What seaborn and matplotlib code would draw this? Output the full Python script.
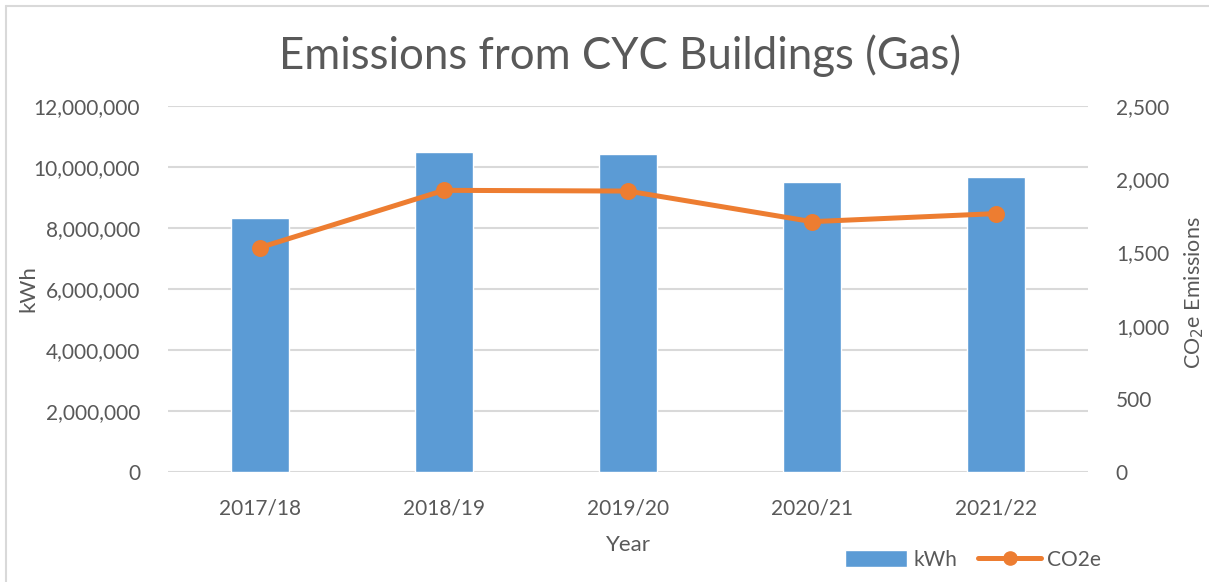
import matplotlib
matplotlib.use('Agg')
import matplotlib.pyplot as plt
import seaborn as sns
import pandas as pd
from matplotlib.lines import Line2D
from matplotlib.patches import Patch
from matplotlib.ticker import FuncFormatter

# Data
years = ['2017/18', '2018/19', '2019/20', '2020/21', '2021/22']
kwh = [8340000, 10480000, 10420000, 9520000, 9660000]
co2e = [1533, 1924, 1919, 1710, 1765]

df = pd.DataFrame({'Year': years, 'kWh': kwh, 'CO2e': co2e})

sns.set_style('white')
plt.rcParams['font.family'] = ['Lato', 'DejaVu Sans']
text_col = '#595959'
grid_col = '#D9D9D9'
bar_col = '#5B9BD5'
line_col = '#ED7D31'

fig = plt.figure(figsize=(12.09, 5.82), dpi=100)
ax = fig.add_axes([168 / 1209, 1 - 472 / 582, (1088 - 168) / 1209, (472 - 106) / 582])

sns.barplot(data=df, x='Year', y='kWh', color=bar_col, width=0.315, saturation=1, ax=ax)
ax.set_ylim(0, 12000000)
ax.set_yticks(range(0, 12000001, 2000000))
ax.yaxis.set_major_formatter(FuncFormatter(lambda v, p: f'{int(v):,}'))
ax.grid(axis='y', color=grid_col, linewidth=1.5)
ax.set_axisbelow(True)
for s in ax.spines.values():
    s.set_visible(False)
ax.tick_params(axis='both', length=0, labelsize=15, labelcolor=text_col)
ax.tick_params(axis='y', pad=20)
ax.tick_params(axis='x', pad=19)
ax.set_ylabel('kWh', fontsize=16, color=text_col, va='center')
ax.yaxis.set_label_coords(-0.152, 0.5)
ax.set_xlabel('Year', fontsize=16, color=text_col, labelpad=12)
ax.set_xlim(-0.5, 4.5)

ax2 = ax.twinx()
sns.pointplot(data=df, x='Year', y='CO2e', color=line_col, markers='o',
              markersize=9.5, linewidth=3.6, ax=ax2)
ax2.set_ylim(0, 2500)
ax2.set_yticks(range(0, 2501, 500))
ax2.yaxis.set_major_formatter(FuncFormatter(lambda v, p: f'{int(v):,}'))
for s in ax2.spines.values():
    s.set_visible(False)
ax2.tick_params(axis='y', length=0, labelsize=15, labelcolor=text_col, pad=20)
ax2.set_ylabel('CO$_2$e Emissions', fontsize=15.5, color=text_col, va='center')
ax2.yaxis.set_label_coords(1.115, 0.49)
ax2.set_xlim(-0.5, 4.5)

fig.text(620 / 1209, 1 - 56 / 582, 'Emissions from CYC Buildings (Gas)', ha='center', va='center',
         fontsize=31.5, color=text_col)

handles = [Patch(facecolor=bar_col, label='kWh'),
           Line2D([0], [0], color=line_col, lw=3.6, marker='o', markersize=9.5, label='CO2e')]
fig.legend(handles=handles, loc='center', bbox_to_anchor=(973 / 1209, 1 - 560 / 582), ncol=2,
           frameon=False, fontsize=15, labelcolor=text_col, handlelength=3.0,
           handleheight=0.9, columnspacing=1.0, handletextpad=0.3)

# chart area border (left and top visible)
fig.add_artist(Line2D([6 / 1209, 6 / 1209], [0, 1 - 6 / 582], color=grid_col, lw=1.5,
                      transform=fig.transFigure))
fig.add_artist(Line2D([6 / 1209, 1], [1 - 6 / 582, 1 - 6 / 582], color=grid_col, lw=1.5,
                      transform=fig.transFigure))

fig.savefig('out.png', dpi=100)
